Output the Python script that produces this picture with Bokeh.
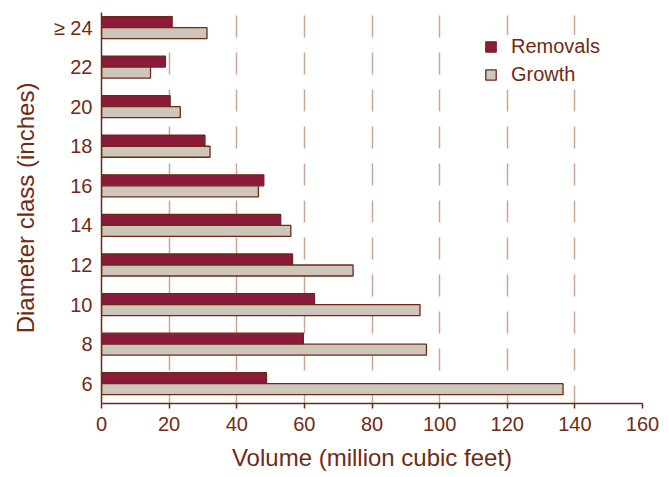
from bokeh.plotting import figure
from bokeh.models import FixedTicker, Range1d, ColumnDataSource
from bokeh.transform import dodge
from bokeh.embed import file_html
from bokeh.resources import INLINE

categories = ["6", "8", "10", "12", "14", "16", "18", "20", "22", "\u2265 24"]
removals = [48.8, 59.7, 63.0, 56.5, 53.0, 48.0, 30.6, 20.3, 18.9, 20.9]
growth = [136.5, 96.1, 94.2, 74.4, 56.0, 46.4, 32.1, 23.3, 14.5, 31.2]
x_ticks = [0, 20, 40, 60, 80, 100, 120, 140, 160]

TEXT = "#6e2c15"
EDGE = "#6b2a14"
REM = "#8b1a3b"
GRO = "#cfc6bb"
GRID = "#c9a695"
FONT = "Liberation Sans"

idx = list(range(len(categories)))
src = ColumnDataSource(dict(idx=idx, removals=removals, growth=growth))

p = figure(frame_width=541, frame_height=391, output_backend="svg",
           toolbar_location=None,
           x_range=Range1d(0, 160), y_range=Range1d(-0.5, 9.38),
           min_border_left=101, min_border_right=20, min_border_top=12,
           min_border_bottom=60)
p.outline_line_color = None

bh = 0.278
p.hbar(y=dodge("idx", bh / 2), right="removals", left=0, height=bh, source=src,
       fill_color=REM, line_color=EDGE, line_width=1.3, legend_label="Removals")
p.hbar(y=dodge("idx", -bh / 2), right="growth", left=0, height=bh, source=src,
       fill_color=GRO, line_color=EDGE, line_width=1.3, legend_label="Growth")

# axes
p.xaxis.ticker = FixedTicker(ticks=x_ticks)
p.xaxis.axis_label = "Volume (million cubic feet)"
p.yaxis.ticker = FixedTicker(ticks=idx)
p.yaxis.major_label_overrides = {i: c for i, c in zip(idx, categories)}
p.yaxis.axis_label = "Diameter class (inches)"
for ax in (p.xaxis[0], p.yaxis[0]):
    ax.axis_line_color = EDGE
    ax.axis_line_width = 1.5
    ax.major_tick_line_color = EDGE
    ax.major_tick_line_width = 1.5
    ax.major_tick_in = 0
    ax.major_tick_out = 5
    ax.minor_tick_line_color = None
    ax.minor_tick_in = 0
    ax.minor_tick_out = 0
    ax.major_label_text_font = FONT
    ax.major_label_text_font_size = "20px"
    ax.major_label_text_color = TEXT
    ax.axis_label_text_font = FONT
    ax.axis_label_text_font_size = "24px"
    ax.axis_label_text_font_style = "normal"
    ax.axis_label_text_color = TEXT
p.yaxis.major_tick_line_color = None
p.yaxis.major_tick_out = 0
p.yaxis.major_label_standoff = 9
p.yaxis.axis_label_standoff = 12
p.xaxis.major_label_standoff = 8
p.xaxis.axis_label_standoff = 10

# grid
p.ygrid.grid_line_color = None
p.xgrid.ticker = FixedTicker(ticks=x_ticks[1:])
p.xgrid.grid_line_color = GRID
p.xgrid.grid_line_width = 1.5
p.xgrid.grid_line_dash = "22 15"
p.xgrid.grid_line_dash_offset = 4

# legend
lg = p.legend[0]
lg.location = (383, 317)
lg.background_fill_color = "white"
lg.background_fill_alpha = 1
lg.border_line_color = None
lg.label_text_font = FONT
lg.label_text_font_size = "20px"
lg.label_text_color = TEXT
lg.glyph_width = 13
lg.glyph_height = 13
lg.label_height = 20
lg.label_standoff = 14
lg.spacing = 5
lg.padding = 8
lg.margin = 0

open("out.html", "w").write(file_html(p, INLINE))
